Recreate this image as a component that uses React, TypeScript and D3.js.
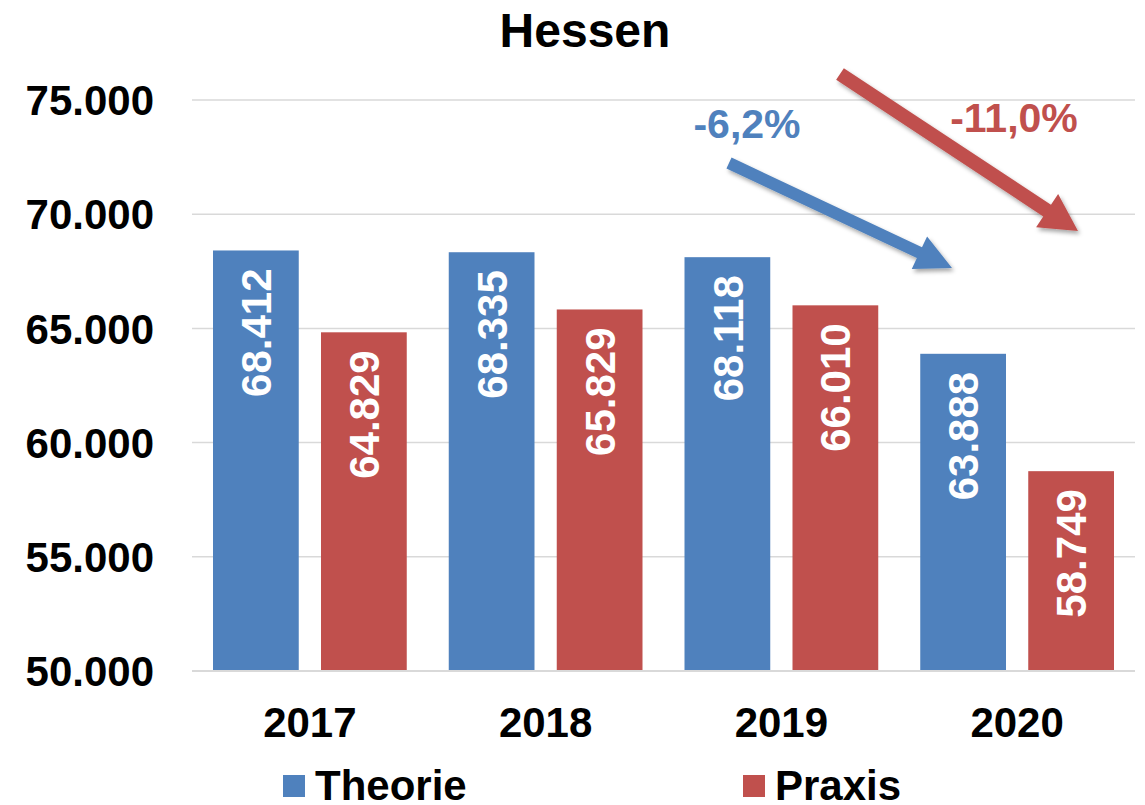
import React from "react";
import * as d3 from "d3";

const years = ["2017", "2018", "2019", "2020"];
const seriesNames = ["Theorie", "Praxis"];
const theorie = [68412, 68335, 68118, 63888];
const praxis = [64829, 65829, 66010, 58749];
const yTicks = [50000, 55000, 60000, 65000, 70000, 75000];
const colors = ["#4F81BD", "#C0504D"];

const W = 1145;
const H = 805;
const FONT = "'Liberation Sans', Arial, Helvetica, sans-serif";

const fmt = (v: number) => {
  const s = Math.round(v).toString();
  return s.replace(/\B(?=(\d{3})+(?!\d))/g, ".");
};

function arrowPath(x1: number, y1: number, x2: number, y2: number, sw: number, hl: number, hw: number) {
  const dx = x2 - x1, dy = y2 - y1;
  const len = Math.sqrt(dx * dx + dy * dy);
  const ux = dx / len, uy = dy / len;
  const px = -uy, py = ux;
  const bx = x2 - ux * hl, by = y2 - uy * hl;
  const pts = [
    [x1 + px * sw / 2, y1 + py * sw / 2],
    [bx + px * sw / 2, by + py * sw / 2],
    [bx + px * hw / 2, by + py * hw / 2],
    [x2, y2],
    [bx - px * hw / 2, by - py * hw / 2],
    [bx - px * sw / 2, by - py * sw / 2],
    [x1 - px * sw / 2, y1 - py * sw / 2],
  ];
  return "M" + pts.map((p) => p.join(",")).join("L") + "Z";
}

export default function App() {
  const left = 192, right = 1135, top = 100, bottom = 671;
  const x0 = d3.scaleBand<string>().domain(years).range([left, right]).padding(0);
  const bw = x0.bandwidth();
  const x1 = d3.scaleBand<string>().domain(seriesNames).range([21, bw - 21]).paddingInner(0.206).paddingOuter(0);
  const y = d3.scaleLinear().domain([50000, 75000]).range([bottom, top]);
  const data = [theorie, praxis];

  return (
    <svg width={W} height={H} style={{ position: "absolute", left: 0, top: 0, background: "#fff" }} fontFamily={FONT}>
      <defs>
        <filter id="sh" x="-20%" y="-20%" width="140%" height="140%">
          <feDropShadow dx="2" dy="3" stdDeviation="2" floodColor="#000" floodOpacity="0.35" />
        </filter>
      </defs>
      <rect x={0} y={0} width={W} height={H} fill="#fff" />
      {yTicks.map((t) => (
        <g key={t}>
          <line x1={left} x2={right} y1={y(t)} y2={y(t)} stroke="#D9D9D9" strokeWidth={1.5} />
          <text x={154} y={y(t)} dy="0.36em" textAnchor="end" fontSize={42} fontWeight="bold" fill="#000">
            {fmt(t)}
          </text>
        </g>
      ))}
      {years.map((yr, i) => (
        <g key={yr}>
          {seriesNames.map((s, j) => {
            const v = data[j][i];
            const bx = (x0(yr) as number) + (x1(s) as number);
            const w = x1.bandwidth();
            const by = y(v);
            return (
              <g key={s}>
                <rect x={bx} y={by} width={w} height={bottom - by} fill={colors[j]} />
                <text
                  transform={`translate(${bx + w / 2},${by + 18}) rotate(-90)`}
                  dy="0.36em"
                  textAnchor="end"
                  fontSize={42}
                  fontWeight="bold"
                  fill="#fff"
                >
                  {fmt(v)}
                </text>
              </g>
            );
          })}
          <text x={(x0(yr) as number) + bw / 2} y={737} textAnchor="middle" fontSize={42} fontWeight="bold" fill="#000">
            {yr}
          </text>
        </g>
      ))}
      <line x1={left} x2={right} y1={bottom} y2={bottom} stroke="#D9D9D9" strokeWidth={2} />
      <text x={585} y={47} textAnchor="middle" fontSize={48} fontWeight="bold" fill="#000">
        Hessen
      </text>
      {/* annotations */}
      <path d={arrowPath(729, 163, 952, 268, 12, 36, 36)} fill={colors[0]} filter="url(#sh)" />
      <path d={arrowPath(840, 74, 1078, 231, 14, 37, 40)} fill={colors[1]} filter="url(#sh)" />
      <text x={747} y={138} textAnchor="middle" fontSize={41} fontWeight="bold" fill={colors[0]}>
        -6,2%
      </text>
      <text x={1014} y={132} textAnchor="middle" fontSize={41} fontWeight="bold" fill={colors[1]}>
        -11,0%
      </text>
      {/* legend */}
      {seriesNames.map((s, j) => {
        const lx = j === 0 ? 283 : 743;
        return (
          <g key={s}>
            <rect x={lx} y={775} width={22} height={22} fill={colors[j]} />
            <text x={lx + 32} y={800} fontSize={42} fontWeight="bold" fill="#000">
              {s}
            </text>
          </g>
        );
      })}
    </svg>
  );
}
